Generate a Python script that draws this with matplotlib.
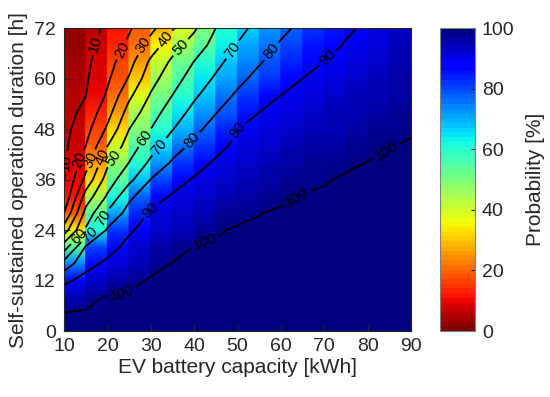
import numpy as np
import matplotlib.pyplot as plt

plt.rcParams['font.family'] = ['Liberation Sans', 'DejaVu Sans']

# EV battery capacity [kWh] (columns) and self-sustained duration [h] (rows)
capacity = [10, 15, 20, 25, 30, 35, 40, 45, 50, 55, 60, 65, 70, 75, 80, 85, 90]
duration = [0, 4, 8, 12, 16, 20, 24, 28, 32, 36, 40, 44, 48, 52, 56, 60, 64, 68, 72]

# probability [%], one row per duration
prob = [
    [100, 100, 100, 100, 100, 100, 100, 100, 100, 100, 100, 100, 100, 100, 100, 100, 100],
    [100, 100, 100, 100, 100, 100, 100, 100, 100, 100, 100, 100, 100, 100, 100, 100, 100],
    [95.3, 98.1, 100, 100, 100, 100, 100, 100, 100, 100, 100, 100, 100, 100, 100, 100, 100],
    [88.1, 92.9, 95.8, 98.3, 100, 100, 100, 100, 100, 100, 100, 100, 100, 100, 100, 100, 100],
    [74.0, 87.1, 91.7, 95.3, 98.0, 99.7, 100, 100, 100, 100, 100, 100, 100, 100, 100, 100, 100],
    [55.0, 80.8, 86.8, 92.3, 95.6, 97.5, 99.6, 100, 100, 100, 100, 100, 100, 100, 100, 100, 100],
    [35.0, 61.2, 81.4, 88.9, 93.3, 95.3, 97.3, 99.0, 100, 100, 100, 100, 100, 100, 100, 100, 100],
    [20.0, 53.5, 71.4, 84.0, 91.0, 93.0, 95.1, 97.0, 98.3, 99.4, 100, 100, 100, 100, 100, 100, 100],
    [12.0, 44.1, 61.3, 77.8, 86.5, 90.8, 92.9, 95.0, 96.7, 97.8, 98.7, 99.7, 100, 100, 100, 100, 100],
    [9.4, 32.8, 54.6, 67.3, 80.3, 86.6, 90.7, 93.0, 95.0, 96.3, 97.3, 98.3, 99.2, 100, 100, 100, 100],
    [8.6, 25.7, 48.0, 60.2, 72.1, 81.3, 86.8, 91.0, 93.3, 94.7, 95.8, 96.9, 97.9, 98.8, 99.6, 100, 100],
    [7.7, 20.0, 39.8, 55.0, 65.7, 75.5, 82.3, 87.8, 91.6, 93.1, 94.4, 95.5, 96.6, 97.6, 98.5, 99.3, 99.9],
    [6.9, 16.4, 31.6, 49.9, 60.0, 69.6, 77.6, 83.7, 89.9, 91.6, 92.9, 94.2, 95.3, 96.4, 97.4, 98.4, 99.1],
    [6.1, 12.7, 26.2, 44.1, 55.5, 64.9, 72.9, 79.6, 85.6, 90.0, 91.5, 92.8, 94.0, 95.3, 96.4, 97.5, 98.2],
    [5.3, 9.8, 21.4, 37.9, 50.9, 60.1, 68.5, 75.5, 81.4, 86.3, 90.0, 91.4, 92.7, 94.1, 95.3, 96.6, 97.3],
    [4.5, 8.8, 18.4, 30.9, 46.4, 55.9, 64.3, 71.3, 77.6, 82.7, 87.0, 90.0, 91.4, 92.9, 94.2, 95.7, 96.4],
    [3.6, 7.9, 16.2, 26.1, 41.9, 51.8, 60.2, 67.5, 74.1, 79.2, 83.9, 87.4, 90.1, 91.7, 93.1, 94.8, 95.6],
    [2.8, 6.9, 13.9, 21.7, 34.4, 46.0, 54.2, 63.7, 70.5, 76.1, 80.9, 84.7, 87.6, 90.5, 92.1, 93.9, 94.7],
    [2.0, 6.0, 11.7, 19.0, 27.0, 39.0, 48.5, 60.0, 67.0, 73.0, 78.0, 82.0, 85.0, 89.0, 91.0, 93.0, 94.0],
]

levels = [10, 20, 30, 40, 50, 60, 70, 80, 90, 99.5]

# where the contour labels sit (capacity, duration)
label_pos = [
    (17.6, 68), (11.4, 40),
    (23.6, 66.8), (13.7, 40.6),
    (28.2, 68), (16.5, 40.6),
    (32.1, 70.3), (18.8, 41.3),
    (36.3, 68), (21.3, 41.3),
    (28.7, 45.9), (13.7, 22.3),
    (49, 66.8), (32.1, 43.7), (16, 22.8),
    (58, 66.3), (39.5, 45.4), (19.9, 26.4),
    (70.9, 64.9), (49.9, 47.8), (29.4, 29.2),
    (23.4, 9), (42.5, 21), (64.4, 30.6), (85, 41.3),
]

x = np.array(capacity)
y = np.array(duration)
P = np.array(prob)

fig = plt.figure(figsize=(5.5, 3.97), dpi=100)
ax = fig.add_axes([0.1164, 0.166, 0.6309, 0.7632])
cax = fig.add_axes([0.80, 0.166, 0.0636, 0.7632])

cmap = plt.get_cmap('jet_r', 64)

# flat colour across each capacity column, smooth along duration
xe = np.repeat(x, 2)[1:-1]
XX, YY = np.meshgrid(xe, y)
CC = np.repeat(P[:, :-1], 2, axis=1)
mesh = ax.pcolormesh(XX, YY, CC, shading='gouraud', cmap=cmap, vmin=0, vmax=100)

cs = ax.contour(x, y, P, levels=levels, colors='k', linewidths=1.3)
ax.clabel(cs, fmt=lambda v: '100' if v > 99 else '%d' % v, fontsize=10.5,
          manual=label_pos, inline_spacing=3)

ax.set_xlim(10, 90)
ax.set_ylim(0, 72)
ax.set_xticks(range(10, 91, 10))
ax.set_yticks(range(0, 73, 12))
txt = '#262626'
ax.tick_params(direction='in', labelsize=14, length=4, colors=txt)
ax.tick_params(axis='x', pad=5)
ax.tick_params(axis='y', pad=6)
ax.set_xlabel('EV battery capacity [kWh]', fontsize=15, color=txt, labelpad=2)
ax.set_ylabel('Self-sustained operation duration [h]', fontsize=15, color=txt)
for s in ax.spines.values():
    s.set_color(txt)
    s.set_linewidth(0.8)

cb = fig.colorbar(mesh, cax=cax, ticks=range(0, 101, 20))
cb.ax.tick_params(direction='in', labelsize=14, length=3, colors=txt, pad=5)
cb.outline.set_edgecolor('#808080')
cb.set_label('Probability [%]', fontsize=15, color=txt, labelpad=8)

fig.savefig('out.png', dpi=100)
